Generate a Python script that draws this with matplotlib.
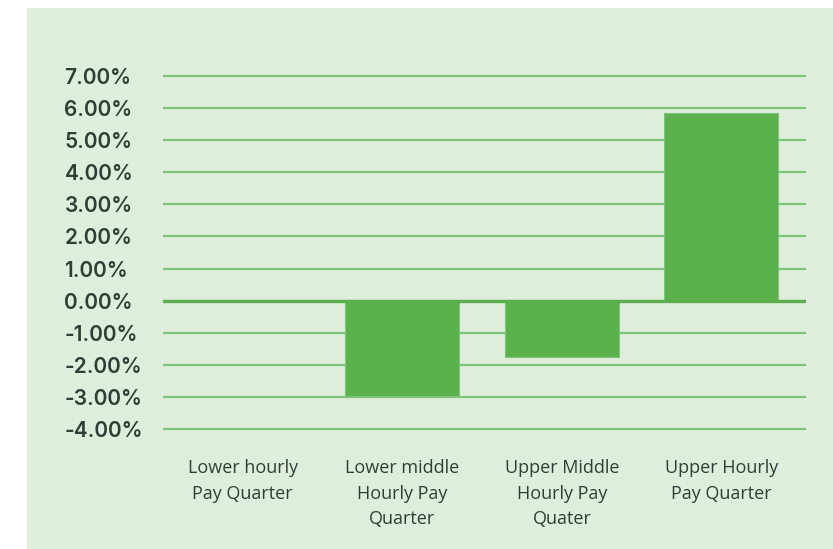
import matplotlib
matplotlib.use("Agg")
import matplotlib.pyplot as plt
from matplotlib.ticker import FixedLocator, FuncFormatter

categories = ["Lower hourly\nPay Quarter", "Lower middle\nHourly Pay\nQuarter",
              "Upper Middle\nHourly Pay\nQuater", "Upper Hourly\nPay Quarter"]
values = [0.0, -2.97, -1.77, 5.85]
yticks = [-4, -3, -2, -1, 0, 1, 2, 3, 4, 5, 6, 7]

BG = "#dfeedc"
BAR = "#5bb14c"
GRID = "#7cc576"
ZERO = "#5aae4e"
TXT = "#2f3d36"

W, H = 833, 549
fig = plt.figure(figsize=(W / 100, H / 100), dpi=100, facecolor="white")

bg = fig.add_axes([27 / W, 0, 1 - 27 / W, 1 - 8 / H], zorder=-5)
bg.set_facecolor(BG)
bg.set_xticks([]); bg.set_yticks([])
for s in bg.spines.values():
    s.set_visible(False)

ax = fig.add_axes([163 / W, (H - 438.6) / H, 643 / W, (438.6 - 66.4) / H], zorder=1)
ax.set_facecolor("none")
ax.set_ylim(-4.3, 7.3)
ax.set_xlim(-0.5, 3.53)

ax.bar(range(len(values)), values, width=0.715, color=BAR,
       edgecolor="#7cc576", linewidth=0.8, zorder=3)
ax.axhline(0, color=ZERO, linewidth=2.4, zorder=4)

ax.yaxis.set_major_locator(FixedLocator(yticks))
ax.yaxis.set_major_formatter(FuncFormatter(lambda v, p: f"{v:.2f}%"))
ax.grid(axis="y", color=GRID, linewidth=1.6, zorder=1)
ax.set_axisbelow(True)
for s in ax.spines.values():
    s.set_visible(False)
ax.tick_params(axis="both", length=0)
ax.tick_params(axis="y", pad=71)
for lab in ax.get_yticklabels():
    lab.set_horizontalalignment("left")
    lab.set_fontfamily("Inter")
    lab.set_fontweight("semibold")
    lab.set_fontsize(15)
    lab.set_color(TXT)

ax.set_xticks(range(len(categories)))
ax.set_xticklabels(categories, fontfamily="Open Sans", fontsize=13,
                   color=TXT, linespacing=1.52)
ax.tick_params(axis="x", pad=15)

fig.savefig("out.png", dpi=100, facecolor="white")
